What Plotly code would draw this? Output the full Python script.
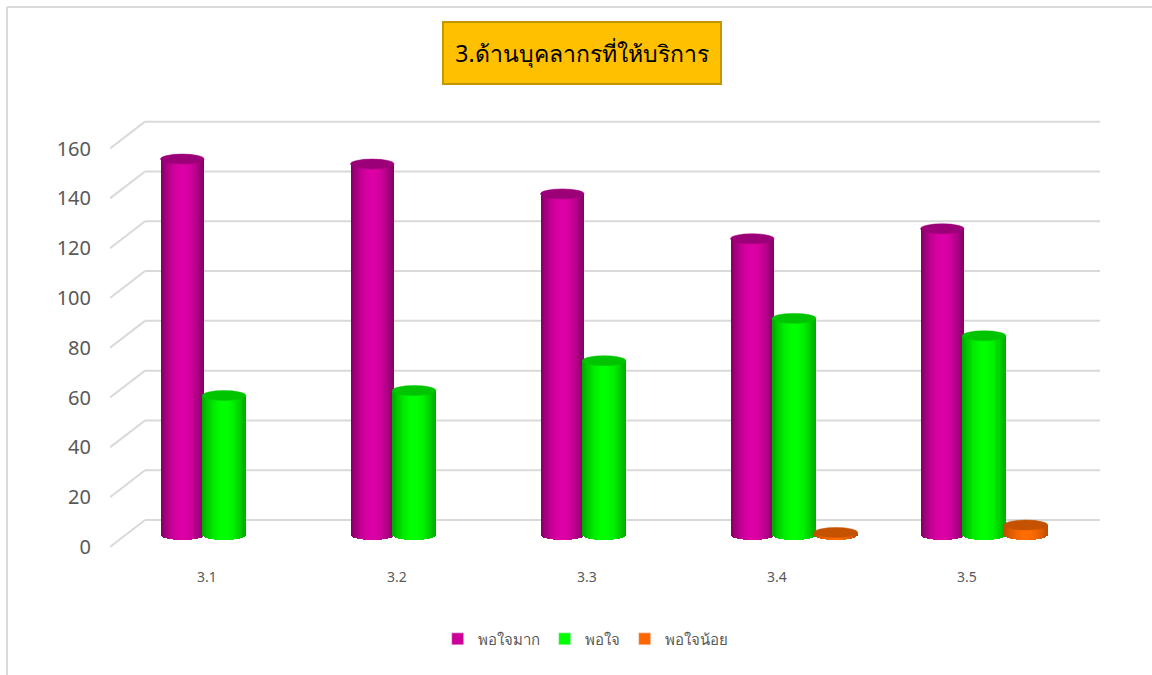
import plotly.graph_objects as go

# ---- data -----------------------------------------------------------------
categories = ["3.1", "3.2", "3.3", "3.4", "3.5"]
very_satisfied = [151, 149, 137, 119, 123]      # พอใจมาก
satisfied = [56, 58, 70, 87, 80]                # พอใจ
less_satisfied = [None, None, None, 1, 4]       # พอใจน้อย
y_ticks = [0, 20, 40, 60, 80, 100, 120, 140, 160]

series = [
    ("พอใจมาก", very_satisfied, (0x80, 0x00, 0x62), (0xDC, 0x00, 0xA6), "#9C0078", "#CC0099"),
    ("พอใจ", satisfied, (0x00, 0xA8, 0x00), (0x00, 0xFF, 0x00), "#00C400", "#00FF00"),
    ("พอใจน้อย", less_satisfied, (0xC0, 0x4C, 0x00), (0xFF, 0x6C, 0x00), "#C45200", "#FF6600"),
]

# ---- geometry of the pseudo-3D layout (category units / value units) -------
X_RANGE = [-0.5105, 4.70]
Y_RANGE = [-10.04, 174.7]
FRONT_SHIFT = -4.8      # axis labels sit on the front plane
BACK_SHIFT = 6.0        # gridlines sit on the back wall
X_BACK = -0.3263        # where the back wall starts
SERIES_OFFSETS = [-0.13, 0.09, 0.31]
HALF_W = 0.1145         # cylinder radius (x)
CAP_B = 2.0             # cylinder ellipse half-height (y)
N_RINGS = 18

fig = go.Figure()


def lerp(c0, c1, t):
    return "rgb(%d,%d,%d)" % tuple(round(a + (b - a) * t) for a, b in zip(c0, c1))


shapes = []

# gridlines: short diagonal from the front edge, then along the back wall
for v in y_ticks:
    shapes.append(dict(type="line", xref="x", yref="y", layer="below",
                       x0=X_RANGE[0], y0=v + FRONT_SHIFT, x1=X_BACK, y1=v + BACK_SHIFT,
                       line=dict(color="#D9D9D9", width=2)))
    shapes.append(dict(type="line", xref="x", yref="y", layer="below",
                       x0=X_BACK, y0=v + BACK_SHIFT, x1=X_RANGE[1], y1=v + BACK_SHIFT,
                       line=dict(color="#D9D9D9", width=2)))

# cylinders: nested strips from the dark rim towards the bright middle
for (name, values, dark, bright, cap, legend_col), off in zip(series, SERIES_OFFSETS):
    cats = [c for c, v in zip(categories, values) if v is not None]
    vals = [v for v in values if v is not None]
    idx = [i for i, v in enumerate(values) if v is not None]
    dh = HALF_W / N_RINGS
    for k in range(N_RINGS):
        h = HALF_W - k * dh
        u = (h - dh / 2) / HALF_W
        shade = (1 - u * u) ** 1.1
        base = -CAP_B * (1 - u * u) ** 0.5
        fig.add_trace(go.Bar(
            x=cats, y=[v - base for v in vals], base=base,
            width=2 * h, offset=off - h,
            marker=dict(color=lerp(dark, bright, shade), line=dict(width=0)),
            showlegend=False, hoverinfo="skip", legendgroup=name,
        ))
    # legend swatch
    fig.add_trace(go.Bar(x=[categories[0]], y=[None], name=name,
                         marker=dict(color=legend_col), legendgroup=name))
    # elliptical top caps
    for i, v in zip(idx, vals):
        shapes.append(dict(type="circle", xref="x", yref="y",
                           x0=i + off - HALF_W, x1=i + off + HALF_W,
                           y0=v - CAP_B, y1=v + CAP_B,
                           fillcolor=cap, line=dict(color=cap, width=0.5)))

# value axis on the front plane (carries the tick labels)
fig.add_trace(go.Scatter(x=[], y=[], yaxis="y2", showlegend=False, hoverinfo="skip"))

# outer chart border (left and top edges)
shapes.append(dict(type="line", xref="paper", yref="paper", x0=-0.104, x1=-0.104,
                   y0=1.2022, y1=-0.26, line=dict(color="#D9D9D9", width=2)))
shapes.append(dict(type="line", xref="paper", yref="paper", x0=-0.104, x1=1.06,
                   y0=1.2022, y1=1.2022, line=dict(color="#D9D9D9", width=2)))

fig.update_layout(
    width=1152, height=675,
    margin=dict(l=110, r=52, t=100, b=115),
    paper_bgcolor="white", plot_bgcolor="white",
    barmode="overlay", bargap=0,
    font=dict(family="Noto Sans, DejaVu Sans, sans-serif", color="#595959"),
    shapes=shapes,
    xaxis=dict(type="category", range=X_RANGE, showgrid=False, zeroline=False,
               showline=False, ticks="", tickfont=dict(size=14, color="#595959"),
               ticklabelstandoff=7, fixedrange=True),
    yaxis=dict(range=Y_RANGE, showgrid=False, zeroline=False, showline=False,
               showticklabels=False, fixedrange=True),
    yaxis2=dict(overlaying="y", side="left", anchor="x",
                range=[Y_RANGE[0] - FRONT_SHIFT, Y_RANGE[1] - FRONT_SHIFT],
                tickvals=y_ticks, showgrid=False, zeroline=False, showline=False,
                ticks="", tickfont=dict(size=20, color="#595959"),
                ticklabelstandoff=18, fixedrange=True),
    legend=dict(orientation="h", x=0.48, xanchor="center", y=-0.172, yanchor="middle",
                font=dict(size=15, color="#595959"), traceorder="normal"),
    annotations=[dict(
        text="3.ด้านบุคลากรที่ให้บริการ", xref="paper", yref="paper",
        x=0.4768, y=1.102, xanchor="center", yanchor="middle", showarrow=False,
        font=dict(size=23, color="black"), bgcolor="#FFC000",
        bordercolor="#C39500", borderwidth=2, borderpad=4, width=268, height=52,
    )],
)

fig.write_html("out.html")
